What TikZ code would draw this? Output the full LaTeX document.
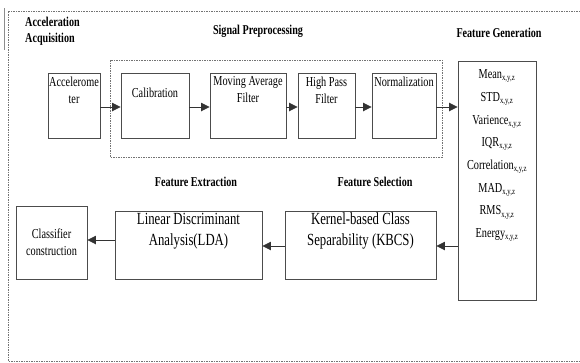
\documentclass[tikz,border=0pt]{standalone}
\usepackage{fontspec}
\setmainfont[FakeStretch=0.75]{Liberation Serif}
\usetikzlibrary{arrows.meta}
\tikzset{
  box/.style={draw=black!70, line width=0.9pt, fill=white, inner sep=0pt},
  frame/.style={draw=black!55, line width=0.8pt, dash pattern=on 1.5pt off 1pt},
  txt/.style={inner sep=0pt, align=center, font=\fontsize{13.7}{17}\selectfont},
  bigtxt/.style={inner sep=0pt, align=center, font=\fontsize{17}{21}\selectfont},
  head/.style={inner sep=0pt, align=left, font=\fontsize{13.5}{17}\selectfont\bfseries},
  feat/.style={inner sep=0pt, font=\fontsize{13.7}{16}\selectfont},
  arr/.style={draw=black!80, line width=0.8pt, -{Triangle[length=8.5pt,width=8.5pt]}}
}
\newcommand{\xyz}{\textsubscript{\fontsize{9}{9}\selectfont x,y,z}}
\begin{document}
\begin{tikzpicture}[x=1pt,y=-1pt]
\useasboundingbox (0,0) rectangle (580,362);
% outer frame
\draw[frame] (580,11) -- (8,11) -- (8,361) -- (580,361);
\draw[black!45, line width=0.8pt] (4,8) -- (4,50);
% headings
\node[head, anchor=north west] (hacq) at (25,17) {Acceleration\\[-1pt]Acquisition};
\node[head] (hsig) at (258,31) {Signal Preprocessing};
\node[head] (hgen) at (499,33) {Feature Generation};
\node[head] (hext) at (196,182) {Feature Extraction};
\node[head] (hsel) at (375,182) {Feature Selection};
% preprocessing frame
\draw[frame] (110,60) rectangle (442,157);
% top row boxes
\node[box, minimum width=52pt, minimum height=65pt] (acc) at (74,105.5) {};
\node[box, minimum width=68pt, minimum height=65pt] (cal) at (155,105.5) {};
\node[box, minimum width=76pt, minimum height=65pt] (mav) at (248,105.5) {};
\node[box, minimum width=57pt, minimum height=65pt] (hpf) at (326.5,105.5) {};
\node[box, minimum width=64pt, minimum height=65pt] (nrm) at (404,105.5) {};
\node[txt, anchor=north] at ([yshift=-4pt]acc.north) {Accelerome\\ter};
\node[txt, anchor=north] at ([yshift=-15pt]cal.north) {Calibration};
\node[txt, anchor=north] at ([yshift=-4pt]mav.north) {Moving Average\\Filter};
\node[txt, anchor=north] at ([yshift=-4pt]hpf.north) {High Pass\\Filter};
\node[txt, anchor=north] at ([yshift=-4pt]nrm.north) {Normalization};
% feature box
\node[box, minimum width=78pt, minimum height=239pt] (gen) at (497,180.5) {};
\foreach \t [count=\i] in {Mean\xyz, STD\xyz, Varience\xyz, IQR\xyz, Correlation\xyz, MAD\xyz, RMS\xyz, Energy\xyz}
  \node[feat] at (497,{53.5+22.7*\i}) {\t};
% bottom row
\node[box, minimum width=151pt, minimum height=68pt] (kbcs) at (360.5,245) {};
\node[box, minimum width=147pt, minimum height=68pt] (lda) at (188.5,245) {};
\node[box, minimum width=71pt, minimum height=73pt] (cls) at (51.5,242.5) {};
\node[bigtxt, anchor=north] at ([yshift=-2pt]kbcs.north) {Kernel-based Class\\Separability (KBCS)};
\node[bigtxt, anchor=north] at ([yshift=-2pt]lda.north) {Linear Discriminant\\Analysis(LDA)};
\node[txt] at (cls.center) {Classifier\\construction};
% arrows
\draw[arr] (acc.east |- 0,107) -- (cal.west |- 0,107);
\draw[arr] (cal.east |- 0,107) -- (mav.west |- 0,107);
\draw[arr] (mav.east |- 0,107) -- (hpf.west |- 0,107);
\draw[arr] (hpf.east |- 0,107) -- (nrm.west |- 0,107);
\draw[arr] (nrm.east |- 0,107) -- (gen.west |- 0,107);
\draw[arr] (gen.west |- 0,246) -- (kbcs.east |- 0,246);
\draw[arr] (kbcs.west |- 0,246) -- (lda.east |- 0,246);
\draw[arr] (lda.west |- 0,240) -- (cls.east |- 0,240);
\end{tikzpicture}
\end{document}
